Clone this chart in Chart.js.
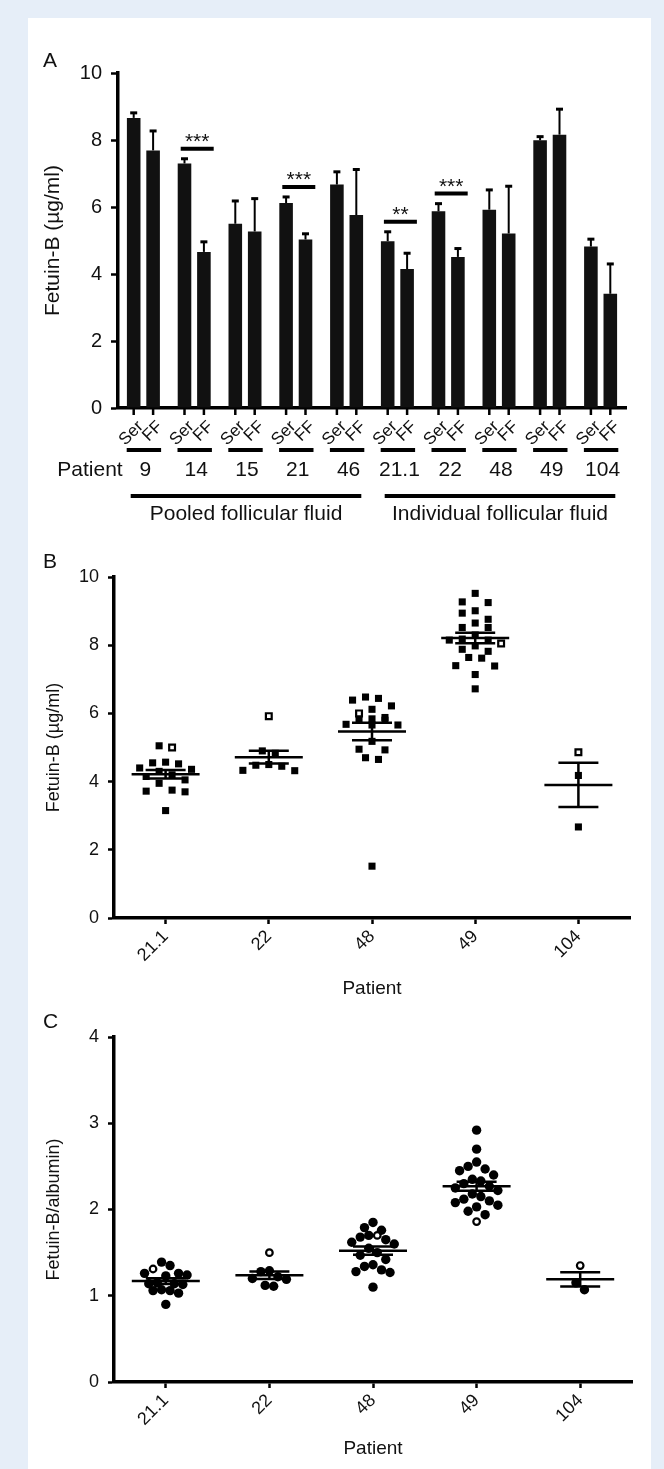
<!DOCTYPE html>
<html>
<head>
<meta charset="utf-8">
<script src="https://cdn.jsdelivr.net/npm/chart.js@4.4.1/dist/chart.umd.min.js"></script>
<style>
  html, body { margin: 0; padding: 0; background: #e6eef8; }
  #page { position: relative; width: 664px; height: 1469px; overflow: hidden; }
  #sheet { position: absolute; left: 28px; top: 18px; width: 623px; height: 1451px; background: #fff; }
  canvas { position: absolute; left: 0; }
  .tag { position: absolute; left: 43px; font: 21px/1 "Liberation Sans", Arial, sans-serif; color: #111; }
</style>
</head>
<body>
<div id="page">
  <div id="sheet"></div>
  <canvas id="chartA" width="664" height="535" style="top:0"></canvas>
  <canvas id="chartB" width="664" height="480" style="top:530px"></canvas>
  <canvas id="chartC" width="664" height="459" style="top:1010px"></canvas>
  <div class="tag" style="top:49px">A</div>
  <div class="tag" style="top:550px">B</div>
  <div class="tag" style="top:1010px">C</div>
</div>
<script>
// ---- panel A: serum vs follicular fluid, mean + SEM
const patientsA = ["9", "14", "15", "21", "46", "21.1", "22", "48", "49", "104"];
const serMean = [8.66, 7.30, 5.50, 6.12, 6.67, 4.98, 5.87, 5.92, 7.99, 4.82];
const serSem = [0.15, 0.14, 0.68, 0.18, 0.38, 0.28, 0.23, 0.59, 0.11, 0.22];
const ffMean = [7.69, 4.66, 5.27, 5.03, 5.76, 4.15, 4.51, 5.21, 8.16, 3.41];
const ffSem = [0.58, 0.30, 0.98, 0.17, 1.36, 0.47, 0.25, 1.41, 0.76, 0.89];
const sigPatients = ["14", "21", "21.1", "22"];
const sigStars = ["***", "***", "**", "***"];
const fluidGroups = ["Pooled follicular fluid", "Individual follicular fluid"];
const fluidGroupSize = [5, 5];

// ---- panel B: fetuin-B per follicle (open marker = the odd follicle)
const patientsB = ["21.1", "22", "48", "49", "104"];
const fetuin211 = [5.05, 4.57, 4.55, 4.52, 4.40, 4.36, 4.30, 4.20, 4.15, 4.05, 3.95, 3.75, 3.72, 3.70, 3.15];
const fetuin22 = [4.90, 4.83, 4.50, 4.45, 4.48, 4.33, 4.32];
const fetuin48 = [6.44, 6.22, 6.39, 6.48, 6.12, 5.80, 5.84, 5.88, 5.82, 5.68, 5.66, 5.66, 5.18, 4.95, 4.93, 4.70, 4.65, 1.52];
const fetuin49 = [9.52, 9.27, 9.25, 9.01, 8.94, 8.76, 8.65, 8.52, 8.52, 8.30, 8.15, 8.18, 8.15, 7.98, 7.88, 7.82, 7.64, 7.62, 7.40, 7.39, 7.14, 6.72];
const fetuin104 = [4.18, 2.67];
const fetuinOpen = [5.00, 5.92, 6.00, 8.05, 4.86];

// ---- panel C: fetuin-B / albumin
const ratio211 = [1.39, 1.35, 1.26, 1.26, 1.24, 1.23, 1.15, 1.14, 1.14, 1.13, 1.07, 1.06, 1.06, 1.03, 0.90];
const ratio22 = [1.29, 1.28, 1.22, 1.20, 1.19, 1.12, 1.11];
const ratio48 = [1.85, 1.79, 1.76, 1.68, 1.70, 1.65, 1.62, 1.60, 1.55, 1.50, 1.47, 1.42, 1.36, 1.34, 1.30, 1.27, 1.28, 1.10];
const ratio49 = [2.92, 2.70, 2.55, 2.50, 2.47, 2.45, 2.40, 2.35, 2.33, 2.30, 2.27, 2.25, 2.22, 2.18, 2.15, 2.12, 2.10, 2.08, 2.05, 2.03, 1.98, 1.94];
const ratio104 = [1.15, 1.07];
const ratioOpen = [1.31, 1.50, 1.70, 1.86, 1.35];

const FONT = '"Liberation Sans", Arial, sans-serif';
const INK = "#111";
Chart.defaults.font.family = FONT;
Chart.defaults.color = INK;

const PX_PER_CAT = 103.5;

// spread points that sit at nearly the same height side by side,
// filling each row from the middle outwards
function swarmOffsets(values, bin, step, maxRow) {
  const order = values.map((v, i) => i).sort((a, b) => values[b] - values[a]);
  const rows = [];
  order.forEach(i => {
    const row = rows[rows.length - 1];
    if (row && row.length < maxRow && values[row[0]] - values[i] < bin) row.push(i);
    else rows.push([i]);
  });
  const out = new Array(values.length).fill(0);
  rows.forEach(row => {
    const n = row.length;
    const slots = [];
    for (let k = 0; k < n; k++) slots.push(k - (n - 1) / 2);
    slots.sort((a, b) => Math.abs(a) - Math.abs(b) || a - b);
    row.forEach((i, k) => { out[i] = slots[k] * step; });
  });
  return out;
}

function buildPoints(groups, opens, opt) {
  const filled = [], open = [];
  groups.forEach((vals, g) => {
    const all = vals.concat([opens[g]]);
    const off = swarmOffsets(all, opt.bin, opt.step / PX_PER_CAT, opt.maxRow);
    all.forEach((v, i) => {
      const p = { x: g + off[i], y: v };
      if (i === all.length - 1) open.push(p); else filled.push(p);
    });
  });
  return { filled, open };
}

function meanSemPlugin(groups, opens) {
  return {
    id: "meanSem",
    afterDatasetsDraw(chart) {
      const { ctx, scales: { x, y } } = chart;
      ctx.save();
      ctx.strokeStyle = "#000";
      ctx.lineWidth = 2.5;
      groups.forEach((vals, g) => {
        const all = vals.concat([opens[g]]);
        const n = all.length;
        const mean = all.reduce((a, b) => a + b, 0) / n;
        const sd = Math.sqrt(all.reduce((a, b) => a + (b - mean) ** 2, 0) / (n - 1));
        const sem = sd / Math.sqrt(n);
        const cx = x.getPixelForValue(g);
        const ym = y.getPixelForValue(mean);
        const yt = y.getPixelForValue(mean + sem);
        const yb = y.getPixelForValue(mean - sem);
        ctx.beginPath();
        ctx.moveTo(cx - 34, ym); ctx.lineTo(cx + 34, ym);
        ctx.moveTo(cx - 20, yt); ctx.lineTo(cx + 20, yt);
        ctx.moveTo(cx - 20, yb); ctx.lineTo(cx + 20, yb);
        ctx.moveTo(cx, yt); ctx.lineTo(cx, yb);
        ctx.stroke();
      });
      ctx.restore();
    }
  };
}

// error bars, significance marks and the two-level x labels of panel A
const annotateA = {
  id: "annotateA",
  afterDatasetsDraw(chart) {
    const { ctx, chartArea, scales: { y } } = chart;
    const ser = chart.getDatasetMeta(0).data;
    const ff = chart.getDatasetMeta(1).data;
    ctx.save();
    ctx.strokeStyle = "#000";
    ctx.fillStyle = INK;

    // upper SEM whiskers
    [[ser, serMean, serSem], [ff, ffMean, ffSem]].forEach(([bars, m, s]) => {
      bars.forEach((bar, i) => {
        const top = y.getPixelForValue(m[i] + s[i]);
        ctx.lineWidth = 2;
        ctx.beginPath();
        ctx.moveTo(bar.x, bar.y); ctx.lineTo(bar.x, top);
        ctx.stroke();
        ctx.lineWidth = 3;
        ctx.beginPath();
        ctx.moveTo(bar.x - 3.5, top); ctx.lineTo(bar.x + 3.5, top);
        ctx.stroke();
      });
    });

    // significance bars
    sigPatients.forEach((p, k) => {
      const i = patientsA.indexOf(p);
      const hi = Math.max(serMean[i] + serSem[i], ffMean[i] + ffSem[i]);
      const ly = y.getPixelForValue(hi + 0.3);
      const cx = (ser[i].x + ff[i].x) / 2 + 3;
      ctx.lineWidth = 4;
      ctx.beginPath();
      ctx.moveTo(cx - 16.5, ly); ctx.lineTo(cx + 16.5, ly);
      ctx.stroke();
      ctx.font = "21px " + FONT;
      ctx.textAlign = "center";
      ctx.textBaseline = "alphabetic";
      ctx.fillText(sigStars[k], cx, ly - 1);
    });

    const base = chartArea.bottom;
    // tick marks under every bar
    ctx.lineWidth = 2.5;
    ctx.beginPath();
    ser.concat(ff).forEach(bar => { ctx.moveTo(bar.x, base); ctx.lineTo(bar.x, base + 7); });
    ctx.stroke();

    // rotated Ser / FF labels
    ctx.font = "17px " + FONT;
    ctx.textAlign = "right";
    ctx.textBaseline = "middle";
    patientsA.forEach((p, i) => {
      [[ser[i], "Ser"], [ff[i], "FF"]].forEach(([bar, txt]) => {
        ctx.save();
        ctx.translate(bar.x + 7, base + 16);
        ctx.rotate(-Math.PI / 4);
        ctx.fillText(txt, 0, 0);
        ctx.restore();
      });
    });

    // per-patient underline and number
    ctx.font = "21px " + FONT;
    ctx.textAlign = "center";
    ctx.textBaseline = "middle";
    ctx.lineWidth = 4;
    patientsA.forEach((p, i) => {
      ctx.beginPath();
      ctx.moveTo(ser[i].x - 7, base + 42); ctx.lineTo(ff[i].x + 8, base + 42);
      ctx.stroke();
      ctx.fillText(p, (ser[i].x + ff[i].x) / 2 + 2, base + 62);
    });
    ctx.textAlign = "right";
    ctx.fillText("Patient", ser[0].x - 11, base + 62);

    // pooled / individual brackets
    ctx.textAlign = "center";
    let start = 0;
    fluidGroups.forEach((label, g) => {
      const end = start + fluidGroupSize[g] - 1;
      const x1 = ser[start].x - 3, x2 = ff[end].x + 5;
      ctx.beginPath();
      ctx.moveTo(x1, base + 88); ctx.lineTo(x2, base + 88);
      ctx.stroke();
      ctx.fillText(label, (x1 + x2) / 2, base + 106);
      start = end + 1;
    });
    ctx.restore();
  }
};

const axisBorder = { display: true, color: "#000", width: 3.5 };
const yGrid = { display: true, drawOnChartArea: false, drawTicks: true, tickLength: 7, tickWidth: 2.5, tickColor: "#000" };

new Chart(document.getElementById("chartA"), {
  type: "bar",
  data: {
    labels: patientsA,
    datasets: [
      { label: "Ser", data: serMean, backgroundColor: INK, barPercentage: 0.7, categoryPercentage: 0.764 },
      { label: "FF", data: ffMean, backgroundColor: INK, barPercentage: 0.7, categoryPercentage: 0.764 }
    ]
  },
  options: {
    responsive: false,
    animation: false,
    layout: { padding: { top: 73, right: 38, left: 0, bottom: 0 } },
    plugins: { legend: { display: false }, tooltip: { enabled: false } },
    scales: {
      x: {
        afterFit: s => { s.height = 127; },
        ticks: { display: false },
        grid: { display: false },
        border: axisBorder
      },
      y: {
        min: 0, max: 10,
        afterFit: s => { s.width = 118; },
        ticks: { stepSize: 2, padding: 9, font: { size: 20 }, color: INK },
        grid: yGrid,
        border: axisBorder,
        title: { display: true, text: "Fetuin-B (µg/ml)", font: { size: 21 }, color: INK, padding: { top: 41, bottom: 0 } }
      }
    }
  },
  plugins: [annotateA]
});

function scatterPanel(id, groups, opens, opt) {
  const pts = buildPoints(groups, opens, opt);
  new Chart(document.getElementById(id), {
    type: "scatter",
    data: {
      datasets: [
        { data: pts.open, pointStyle: opt.style, pointRadius: opt.openRadius, backgroundColor: "#fff", borderColor: "#000", borderWidth: 2.2 },
        { data: pts.filled, pointStyle: opt.style, pointRadius: opt.radius, backgroundColor: "#000", borderColor: "#000", borderWidth: 0 }
      ]
    },
    options: {
      responsive: false,
      animation: false,
      layout: { padding: { top: opt.top, right: opt.right, left: 0, bottom: 0 } },
      plugins: { legend: { display: false }, tooltip: { enabled: false } },
      scales: {
        x: {
          type: "linear", min: -0.5, max: 4.5,
          afterBuildTicks: s => { s.ticks = patientsB.map((p, i) => ({ value: i })); },
          afterFit: s => { s.height = opt.xHeight; },
          ticks: { callback: v => patientsB[v], autoSkip: false, maxRotation: 45, minRotation: 45, padding: 2, font: { size: 18 }, color: INK },
          grid: { display: true, drawOnChartArea: false, drawTicks: true, tickLength: 6, tickWidth: 2.5, tickColor: "#000" },
          border: axisBorder,
          title: { display: true, text: "Patient", font: { size: 19 }, color: INK, padding: { top: 0, bottom: opt.titleBottom } }
        },
        y: {
          min: 0, max: opt.max,
          afterFit: s => { s.width = 114; },
          ticks: { stepSize: opt.stepSize, padding: 9, font: { size: 18 }, color: INK },
          grid: { display: true, drawOnChartArea: false, drawTicks: true, tickLength: 6, tickWidth: 2.5, tickColor: "#000" },
          border: axisBorder,
          title: { display: true, text: opt.yTitle, font: { size: 18 }, color: INK, padding: { top: 43, bottom: 0 } }
        }
      }
    },
    plugins: [meanSemPlugin(groups, opens)]
  });
}

scatterPanel("chartB", [fetuin211, fetuin22, fetuin48, fetuin49, fetuin104], fetuinOpen, {
  bin: 0.28, step: 13, maxRow: 5, style: "rect", radius: 5, openRadius: 4.1,
  top: 47, right: 34, xHeight: 92, titleBottom: 10, max: 10, stepSize: 2,
  yTitle: "Fetuin-B (µg/ml)"
});

scatterPanel("chartC", [ratio211, ratio22, ratio48, ratio49, ratio104], ratioOpen, {
  bin: 0.15, step: 8.5, maxRow: 6, style: "circle", radius: 4.7, openRadius: 3.3,
  top: 27, right: 32, xHeight: 87, titleBottom: 9, max: 4, stepSize: 1,
  yTitle: "Fetuin-B/albumin)"
});
</script>
</body>
</html>
